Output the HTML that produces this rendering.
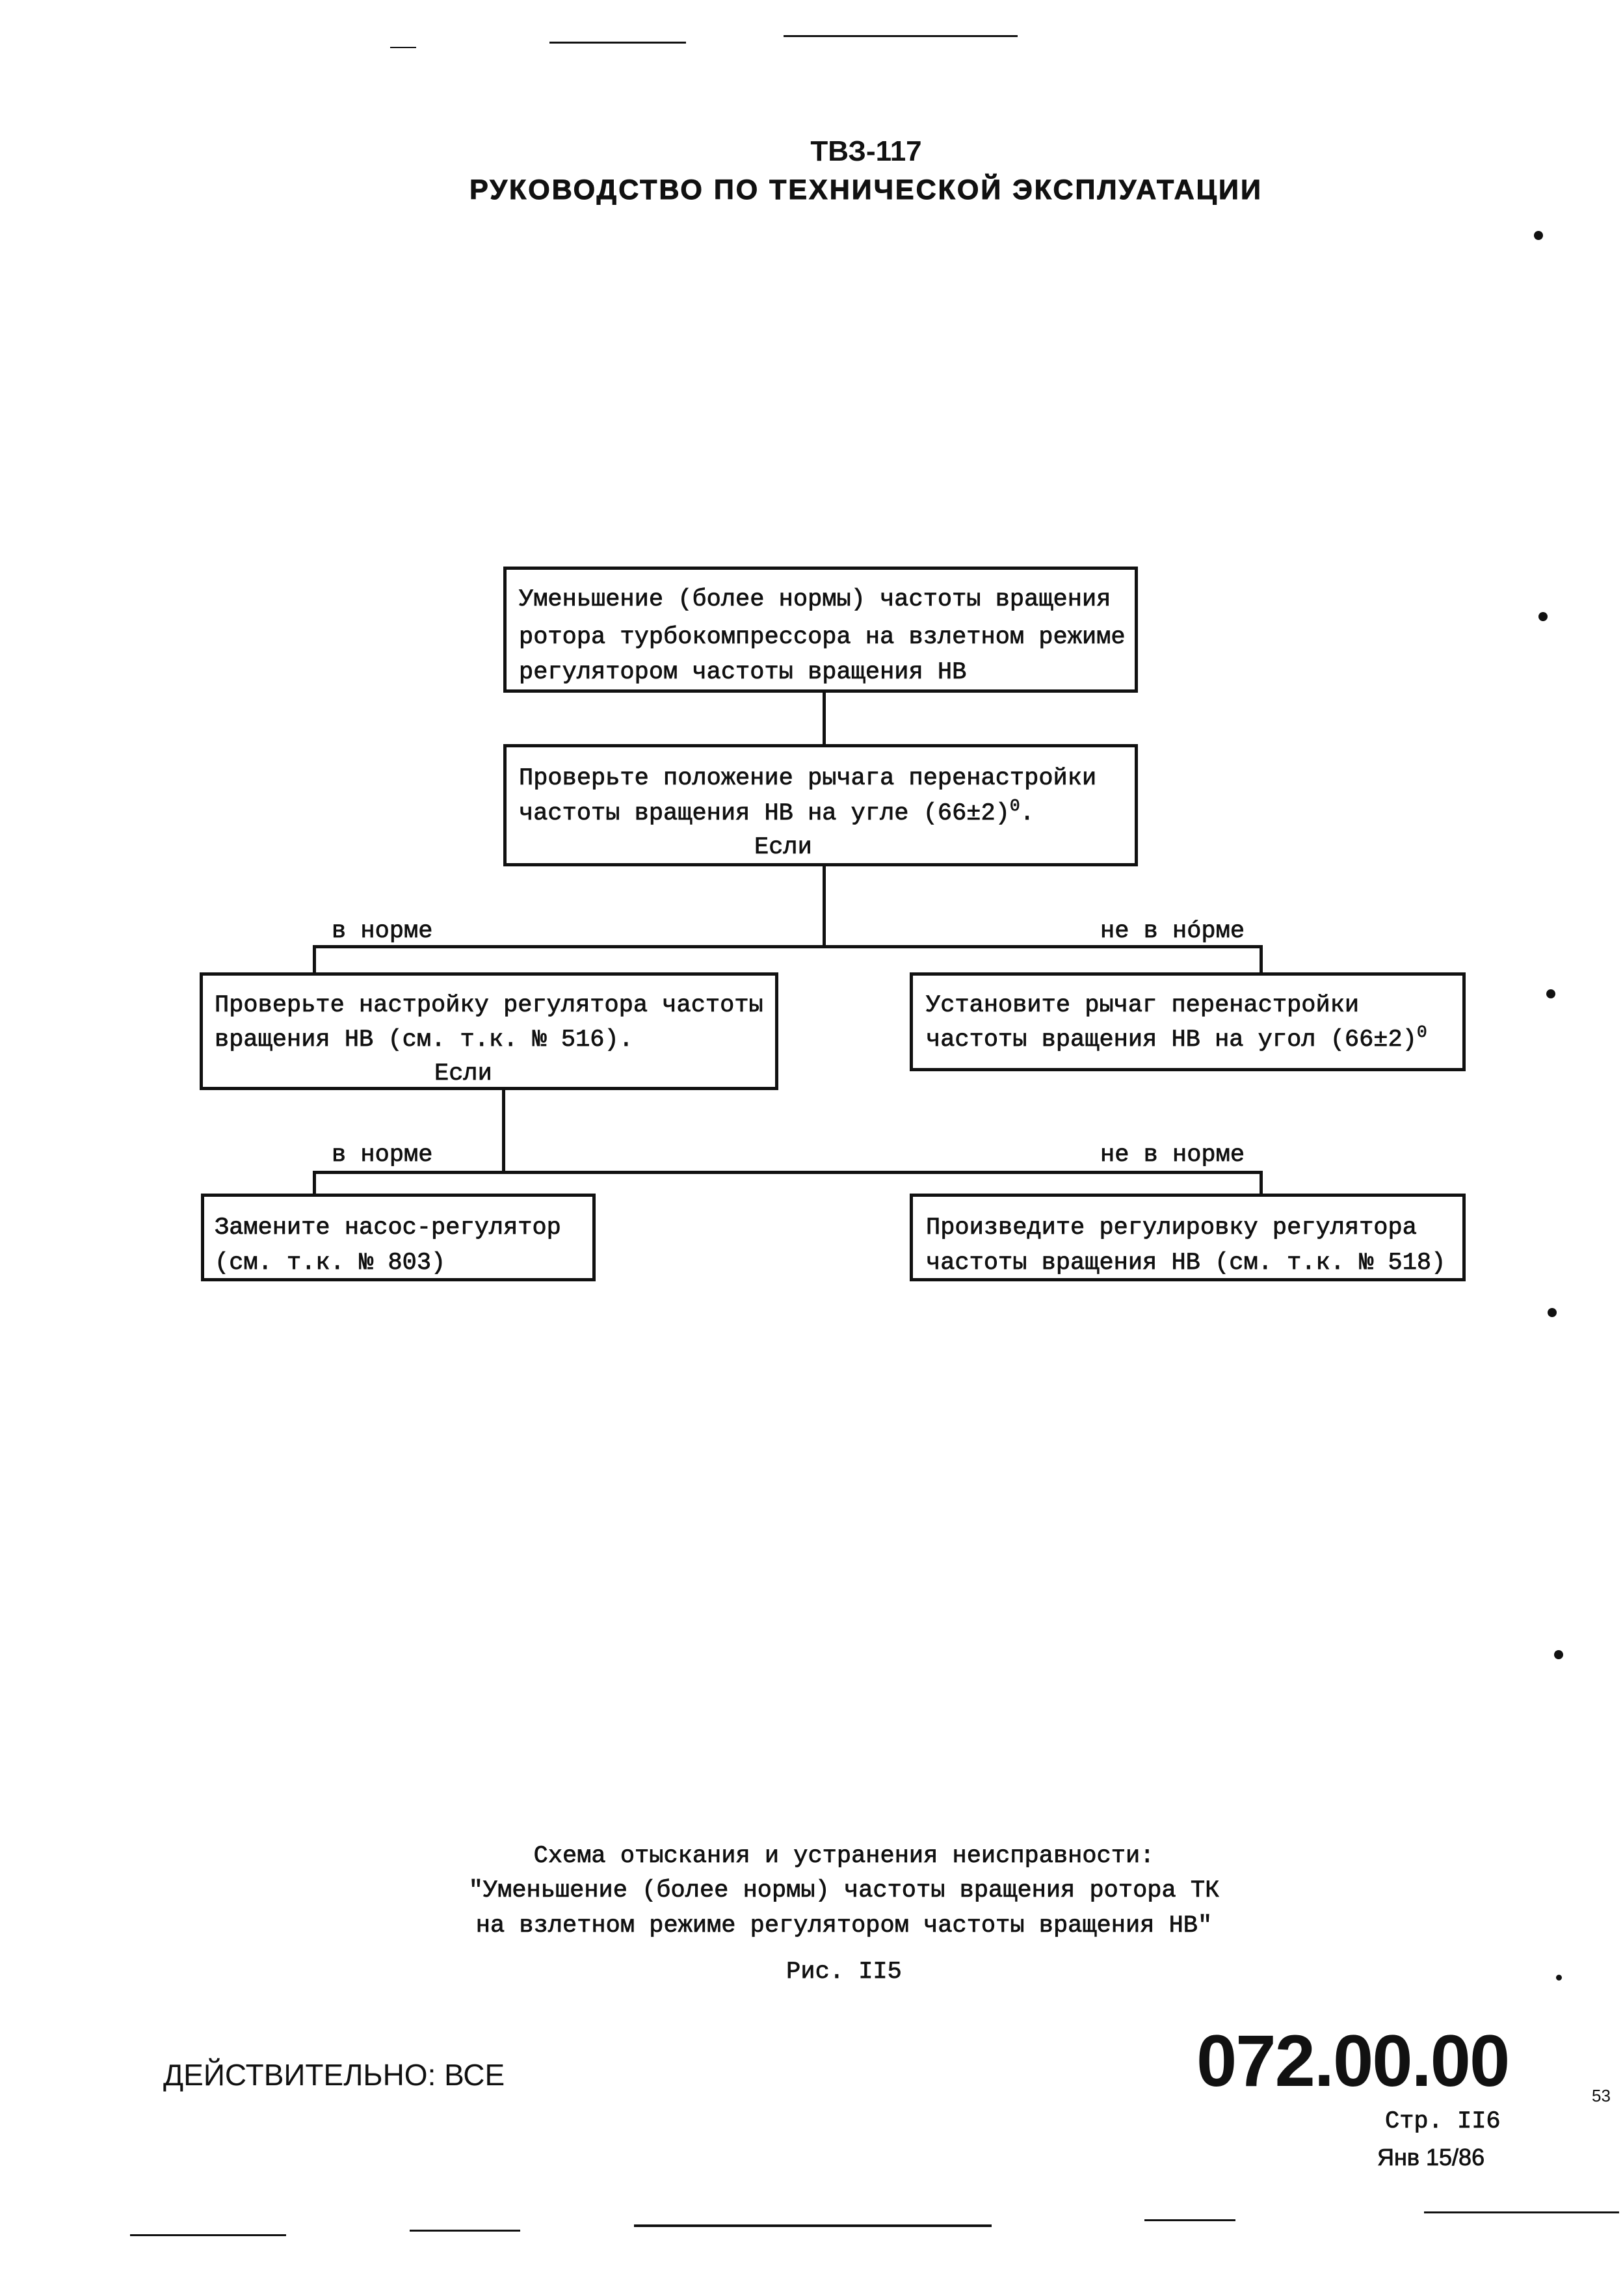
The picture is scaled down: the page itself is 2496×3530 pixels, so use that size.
<!DOCTYPE html>
<html><head><meta charset="utf-8"><style>
body{margin:0;width:2496px;height:3530px;background:#fff;position:relative;overflow:hidden;font-family:"Liberation Mono","DejaVu Sans Mono",monospace;color:#111}
.a{position:absolute;white-space:pre}
.box{position:absolute;border:5px solid #111;box-sizing:border-box}
.t{position:absolute;white-space:pre;font-size:37px;line-height:37px;-webkit-text-stroke:0.8px #111}
.h{position:absolute;background:#111}
.dot{position:absolute;width:14px;height:14px;border-radius:50%;background:#111}
.s{font-family:"Liberation Sans",sans-serif}
sup{font-size:26px;line-height:0;vertical-align:0;position:relative;top:-14px}
</style></head><body>
<div class="a s" style="left:0;width:2664px;top:208px;text-align:center;font-size:44px;font-weight:bold">ТВЗ-117</div>
<div class="a s" style="left:0;width:2664px;top:268px;text-align:center;font-size:43px;font-weight:bold;letter-spacing:3px;-webkit-text-stroke:1px #111">РУКОВОДСТВО ПО ТЕХНИЧЕСКОЙ ЭКСПЛУАТАЦИИ</div>

<div class="box" style="left:774px;top:871px;width:976px;height:194px"></div>
<div class="t" style="left:798px;top:904px">Уменьшение (более нормы) частоты вращения</div>
<div class="t" style="left:798px;top:962px">ротора турбокомпрессора на взлетном режиме</div>
<div class="t" style="left:798px;top:1016px">регулятором частоты вращения НВ</div>

<div class="h" style="left:1265px;top:1065px;width:5px;height:79px"></div>

<div class="box" style="left:774px;top:1144px;width:976px;height:188px"></div>
<div class="t" style="left:798px;top:1179px">Проверьте положение рычага перенастройки</div>
<div class="t" style="left:798px;top:1233px">частоты вращения НВ на угле (66±2)<sup>0</sup>.</div>
<div class="t" style="left:1160px;top:1285px">Если</div>

<div class="h" style="left:1265px;top:1332px;width:5px;height:125px"></div>
<div class="h" style="left:481px;top:1453px;width:1461px;height:5px"></div>
<div class="h" style="left:481px;top:1453px;width:5px;height:42px"></div>
<div class="h" style="left:1937px;top:1453px;width:5px;height:42px"></div>
<div class="t" style="left:510px;top:1414px">в норме</div>
<div class="t" style="left:1692px;top:1414px">не в нóрме</div>

<div class="box" style="left:307px;top:1495px;width:890px;height:181px"></div>
<div class="t" style="left:330px;top:1528px">Проверьте настройку регулятора частоты</div>
<div class="t" style="left:330px;top:1581px">вращения НВ (см. т.к. № 516).</div>
<div class="t" style="left:668px;top:1633px">Если</div>

<div class="box" style="left:1399px;top:1495px;width:855px;height:152px"></div>
<div class="t" style="left:1424px;top:1528px">Установите рычаг перенастройки</div>
<div class="t" style="left:1424px;top:1581px">частоты вращения НВ на угол (66±2)<sup>0</sup></div>

<div class="h" style="left:772px;top:1676px;width:5px;height:128px"></div>
<div class="h" style="left:481px;top:1800px;width:1461px;height:5px"></div>
<div class="h" style="left:481px;top:1800px;width:5px;height:35px"></div>
<div class="h" style="left:1937px;top:1800px;width:5px;height:35px"></div>
<div class="t" style="left:510px;top:1758px">в норме</div>
<div class="t" style="left:1692px;top:1758px">не в норме</div>

<div class="box" style="left:309px;top:1835px;width:607px;height:135px"></div>
<div class="t" style="left:330px;top:1870px">Замените насос-регулятор</div>
<div class="t" style="left:330px;top:1924px">(см. т.к. № 803)</div>

<div class="box" style="left:1399px;top:1835px;width:855px;height:135px"></div>
<div class="t" style="left:1424px;top:1870px">Произведите регулировку регулятора</div>
<div class="t" style="left:1424px;top:1924px">частоты вращения НВ (см. т.к. № 518)</div>

<div class="t" style="left:0;width:2596px;text-align:center;top:2836px">Схема отыскания и устранения неисправности:</div>
<div class="t" style="left:0;width:2596px;text-align:center;top:2889px">"Уменьшение (более нормы) частоты вращения ротора ТК</div>
<div class="t" style="left:0;width:2596px;text-align:center;top:2943px">на взлетном режиме регулятором частоты вращения НВ"</div>
<div class="t" style="left:0;width:2596px;text-align:center;top:3014px">Рис. II5</div>

<div class="a s" style="left:251px;top:3163px;font-size:46px">ДЕЙСТВИТЕЛЬНО: ВСЕ</div>
<div class="a s" style="left:1840px;top:3104px;font-size:112px;font-weight:bold;letter-spacing:-2px">072.00.00</div>
<div class="t" style="left:2130px;top:3244px">Стр. II6</div>
<div class="a s" style="left:2118px;top:3296px;font-size:36px;-webkit-text-stroke:0.8px #111">Янв 15/86</div>
<div class="a s" style="left:2448px;top:3207px;font-size:26px">53</div>

<div class="dot" style="left:2359px;top:355px"></div>
<div class="dot" style="left:2366px;top:941px"></div>
<div class="dot" style="left:2378px;top:1521px"></div>
<div class="dot" style="left:2380px;top:2011px"></div>
<div class="dot" style="left:2390px;top:2537px"></div>
<div class="dot" style="left:2393px;top:3036px;width:9px;height:9px"></div>

<div class="h" style="left:600px;top:72px;width:40px;height:2px"></div>
<div class="h" style="left:845px;top:64px;width:210px;height:3px"></div>
<div class="h" style="left:1205px;top:54px;width:360px;height:3px"></div>
<div class="h" style="left:200px;top:3435px;width:240px;height:3px"></div>
<div class="h" style="left:630px;top:3428px;width:170px;height:3px"></div>
<div class="h" style="left:975px;top:3420px;width:550px;height:4px"></div>
<div class="h" style="left:1760px;top:3412px;width:140px;height:3px"></div>
<div class="h" style="left:2190px;top:3400px;width:300px;height:3px"></div>
</body></html>
